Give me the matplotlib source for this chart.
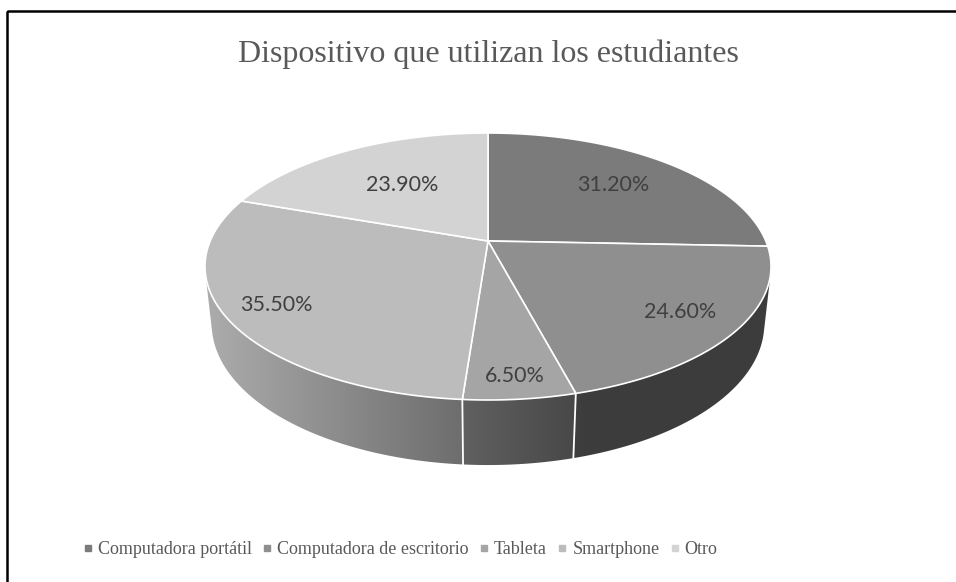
import numpy as np
import matplotlib
matplotlib.use('Agg')
import matplotlib.pyplot as plt
from matplotlib.patches import Polygon, Rectangle
from matplotlib.lines import Line2D

# data
categorias = ['Computadora portátil', 'Computadora de escritorio', 'Tableta', 'Smartphone', 'Otro']
valores = [31.2, 24.6, 6.5, 35.5, 23.9]
etiquetas = ['31.20%', '24.60%', '6.50%', '35.50%', '23.90%']
titulo = 'Dispositivo que utilizan los estudiantes'

# styles
grises = [0x7b, 0x8f, 0xa5, 0xbc, 0xd3]
label_r = [0.68, 0.80, 0.88, 0.83, 0.58]

# 3d pie camera (pixel space)
cx, cy = 488, 241
S = 277.8
sin_phi = 0.463
cos_phi = np.sqrt(1 - sin_phi**2)
D = 4.64
h = 0.235

def proj(X, Y, Z):
    w = 1 + (Y*cos_phi - Z*sin_phi)/D
    u = cx + S*X/w
    v = cy - S*(Y*sin_phi + Z*cos_phi)/w
    return u, v

def rim(t, z):
    t = np.radians(t)
    return proj(np.cos(t), np.sin(t), z)

def gris(g):
    g = min(max(g, 0), 255)/255.
    return (g, g, g)

fig = plt.figure(figsize=(9.56, 5.82), dpi=100)
ax = fig.add_axes([0, 0, 1, 1])

total = sum(valores)
bordes = 90 - 360*np.concatenate([[0], np.cumsum(valores)])/total

# visible side range
s0 = 1/(D*cos_phi)
vis_min = -180 + np.degrees(np.arcsin(s0))
vis_max = -np.degrees(np.arcsin(s0))

# side walls, shaded left to right
for i in range(len(valores)):
    a, b = max(bordes[i+1], vis_min), min(bordes[i], vis_max)
    if a >= b:
        continue
    ts = np.linspace(a, b, 120)
    ut, vt = rim(ts, 0)
    ub, vb = rim(ts[::-1], -h)
    verts = list(zip(ut, vt)) + list(zip(ub, vb))
    patch = Polygon(verts, closed=True, facecolor='none', edgecolor='none')
    ax.add_patch(patch)
    u0, u1 = min(ut.min(), ub.min()) - 2, max(ut.max(), ub.max()) + 2
    v0, v1 = min(vt.min(), vb.min()) - 2, max(vt.max(), vb.max()) + 2
    us = np.linspace(u0, u1, 300)
    X = np.clip((us - cx)/S, -1, 1)
    f = np.maximum(0.42, 0.55 - 0.36*X)
    g = np.clip(grises[i]*f/255., 0, 1)
    img = np.repeat(np.stack([g, g, g], axis=-1)[None, :, :], 2, axis=0)
    im = ax.imshow(img, extent=[u0, u1, v1, v0], aspect='auto',
                   interpolation='bilinear', zorder=1)
    im.set_clip_path(patch)

# white seams on the side
for t in bordes:
    for tt in (t, t - 360):
        if vis_min < tt < vis_max:
            u1, v1 = rim(tt, 0); u2, v2 = rim(tt, -h)
            ax.plot([u1, u2], [v1, v2], color='white', lw=1.3, zorder=2)

# top face
for i in range(len(valores)):
    ts = np.linspace(bordes[i], bordes[i+1], 200)
    u, v = rim(ts, 0)
    pts = [proj(0, 0, 0)] + list(zip(u, v))
    ax.add_patch(Polygon(pts, closed=True, facecolor=gris(grises[i]),
                         edgecolor='white', lw=1.2, joinstyle='round', zorder=3))

# labels
for i in range(len(valores)):
    tm = np.radians((bordes[i] + bordes[i+1])/2)
    r = label_r[i]
    u, v = proj(r*np.cos(tm), r*np.sin(tm), 0)
    ax.text(u, v, etiquetas[i], ha='center', va='center', fontsize=15.5,
            family='Lato', color='#404040', zorder=4)

ax.text(488, 62, titulo, ha='center', va='baseline', fontsize=23,
        family='Liberation Serif', color='#595959')

handles = [Line2D([], [], ls='none', marker='s', markersize=4.5,
                  markerfacecolor=gris(g), markeredgecolor=gris(g)) for g in grises]
leg = ax.legend(handles, categorias, loc='center', bbox_to_anchor=(0.419, 0.055),
                ncol=5, frameon=False, handlelength=0.5, handletextpad=0.3,
                columnspacing=0.6, prop={'family': 'Liberation Serif', 'size': 13})
for t in leg.get_texts():
    t.set_color('#595959')

ax.add_patch(Rectangle((7, 11), 980, 620, fill=False, edgecolor='black', lw=1.8))

ax.set_xlim(0, 956)
ax.set_ylim(582, 0)
ax.axis('off')

fig.savefig('out.png', dpi=100)
